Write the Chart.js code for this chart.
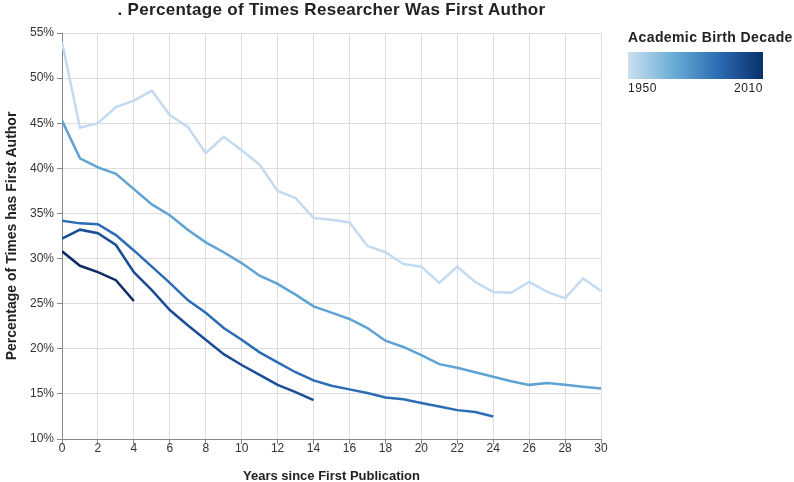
<!DOCTYPE html>
<html>
<head>
<meta charset="utf-8">
<script src="https://cdn.jsdelivr.net/npm/chart.js@4.4.0/dist/chart.umd.min.js"></script>
<style>
body { margin: 0; background: #fff; font-family: "Liberation Sans", Arial, sans-serif; }
#wrap { position: relative; width: 794px; height: 482px; }
#title { position: absolute; left: 62px; width: 539px; top: 0px; text-align: center; font-weight: bold; font-size: 17px; letter-spacing: 0.3px; color: #222; }
#legend { position: absolute; left: 628px; top: 29px; }
#legend .lt { font-weight: bold; font-size: 14px; letter-spacing: 0.4px; color: #222; white-space: nowrap; }
#legend .bar { width: 135px; height: 27px; margin-top: 7px; background: linear-gradient(to right, #cbdff1, #6aaed6, #2c6cb4, #08306b); }
#legend .lab { width: 135px; display: flex; justify-content: space-between; font-size: 12px; letter-spacing: 0.6px; color: #222; margin-top: 2px; }
</style>
</head>
<body>
<div id="wrap">
<canvas id="chart" width="794" height="482"></canvas>
<div id="title">. Percentage of Times Researcher Was First Author</div>
<div id="legend">
  <div class="lt">Academic Birth Decade</div>
  <div class="bar"></div>
  <div class="lab"><span>1950</span><span>2010</span></div>
</div>
</div>
<script>
var decades = ['1950', '1960', '1970', '1980', '1990'];
var colors = ['#c4daf0', '#5fa2d4', '#2c6cb4', '#1b4c96', '#0d2b63'];

var s1950 = [54.0, 44.5, 45.0, 46.8, 47.5, 48.6, 45.9, 44.6, 41.7, 43.5, 42.0, 40.4, 37.5, 36.7, 34.5,
    34.3, 34.0, 31.4, 30.7, 29.4, 29.1, 27.3, 29.1, 27.4, 26.3, 26.2, 27.4, 26.3, 25.6, 27.8, 26.4];
var s1960 = [45.3, 41.1, 40.1, 39.4, 37.7, 36.0, 34.8, 33.2, 31.8, 30.7, 29.5, 28.1, 27.2, 26.0, 24.7,
    24.0, 23.3, 22.3, 20.9, 20.2, 19.3, 18.3, 17.9, 17.4, 16.9, 16.4, 16.0, 16.2, 16.0, 15.8, 15.6];
var s1970 = [34.2, 33.9, 33.8, 32.6, 30.9, 29.1, 27.3, 25.4, 24.0, 22.3, 21.0, 19.6, 18.5, 17.4, 16.5,
    15.9, 15.5, 15.1, 14.6, 14.4, 14.0, 13.6, 13.2, 13.0, 12.5];
var s1980 = [32.2, 33.2, 32.8, 31.5, 28.5, 26.5, 24.3, 22.6, 21.0, 19.4, 18.2, 17.1, 16.0, 15.2, 14.3];
var s1990 = [30.8, 29.2, 28.5, 27.6, 25.3];

var allSeries = [s1950, s1960, s1970, s1980, s1990];

var datasets = allSeries.map(function(vals, i) {
    return {
        label: decades[i],
        data: vals.map(function(v, x) { return { x: x, y: v }; }),
        borderColor: colors[i],
        borderWidth: 2.5,
        pointRadius: 0,
        fill: false,
        tension: 0
    };
});

var tickFont = { family: '"Liberation Sans", Arial, sans-serif', size: 12 };

var ctx = document.getElementById('chart').getContext('2d');
new Chart(ctx, {
    type: 'line',
    data: { datasets: datasets },
    options: {
        responsive: false,
        animation: false,
        layout: { padding: { top: 33, right: 193, left: 0, bottom: 0 } },
        plugins: { legend: { display: false }, tooltip: { enabled: false } },
        scales: {
            x: {
                type: 'linear',
                min: 0,
                max: 30,
                ticks: { stepSize: 2, color: '#333', font: tickFont, padding: -3 },
                grid: { color: '#dddddd', tickColor: '#888', tickLength: 5 },
                border: { color: '#888' },
                title: { display: true, text: 'Years since First Publication', color: '#222',
                    font: { family: '"Liberation Sans", Arial, sans-serif', size: 13, weight: 'bold' }, padding: { top: 0, bottom: -2 } },
                afterFit: function(scale) { scale.height = 43; }
            },
            y: {
                min: 10,
                max: 55,
                ticks: { stepSize: 5, color: '#333', font: tickFont, padding: 3,
                    callback: function(v) { return v + '%'; } },
                grid: { color: '#dddddd', tickColor: '#888', tickLength: 5 },
                border: { color: '#888' },
                title: { display: true, text: 'Percentage of Times has First Author', color: '#222',
                    font: { family: '"Liberation Sans", Arial, sans-serif', size: 14, weight: 'bold' }, padding: { bottom: 2 } },
                afterFit: function(scale) { scale.width = 62; }
            }
        }
    }
});
</script>
</body>
</html>
